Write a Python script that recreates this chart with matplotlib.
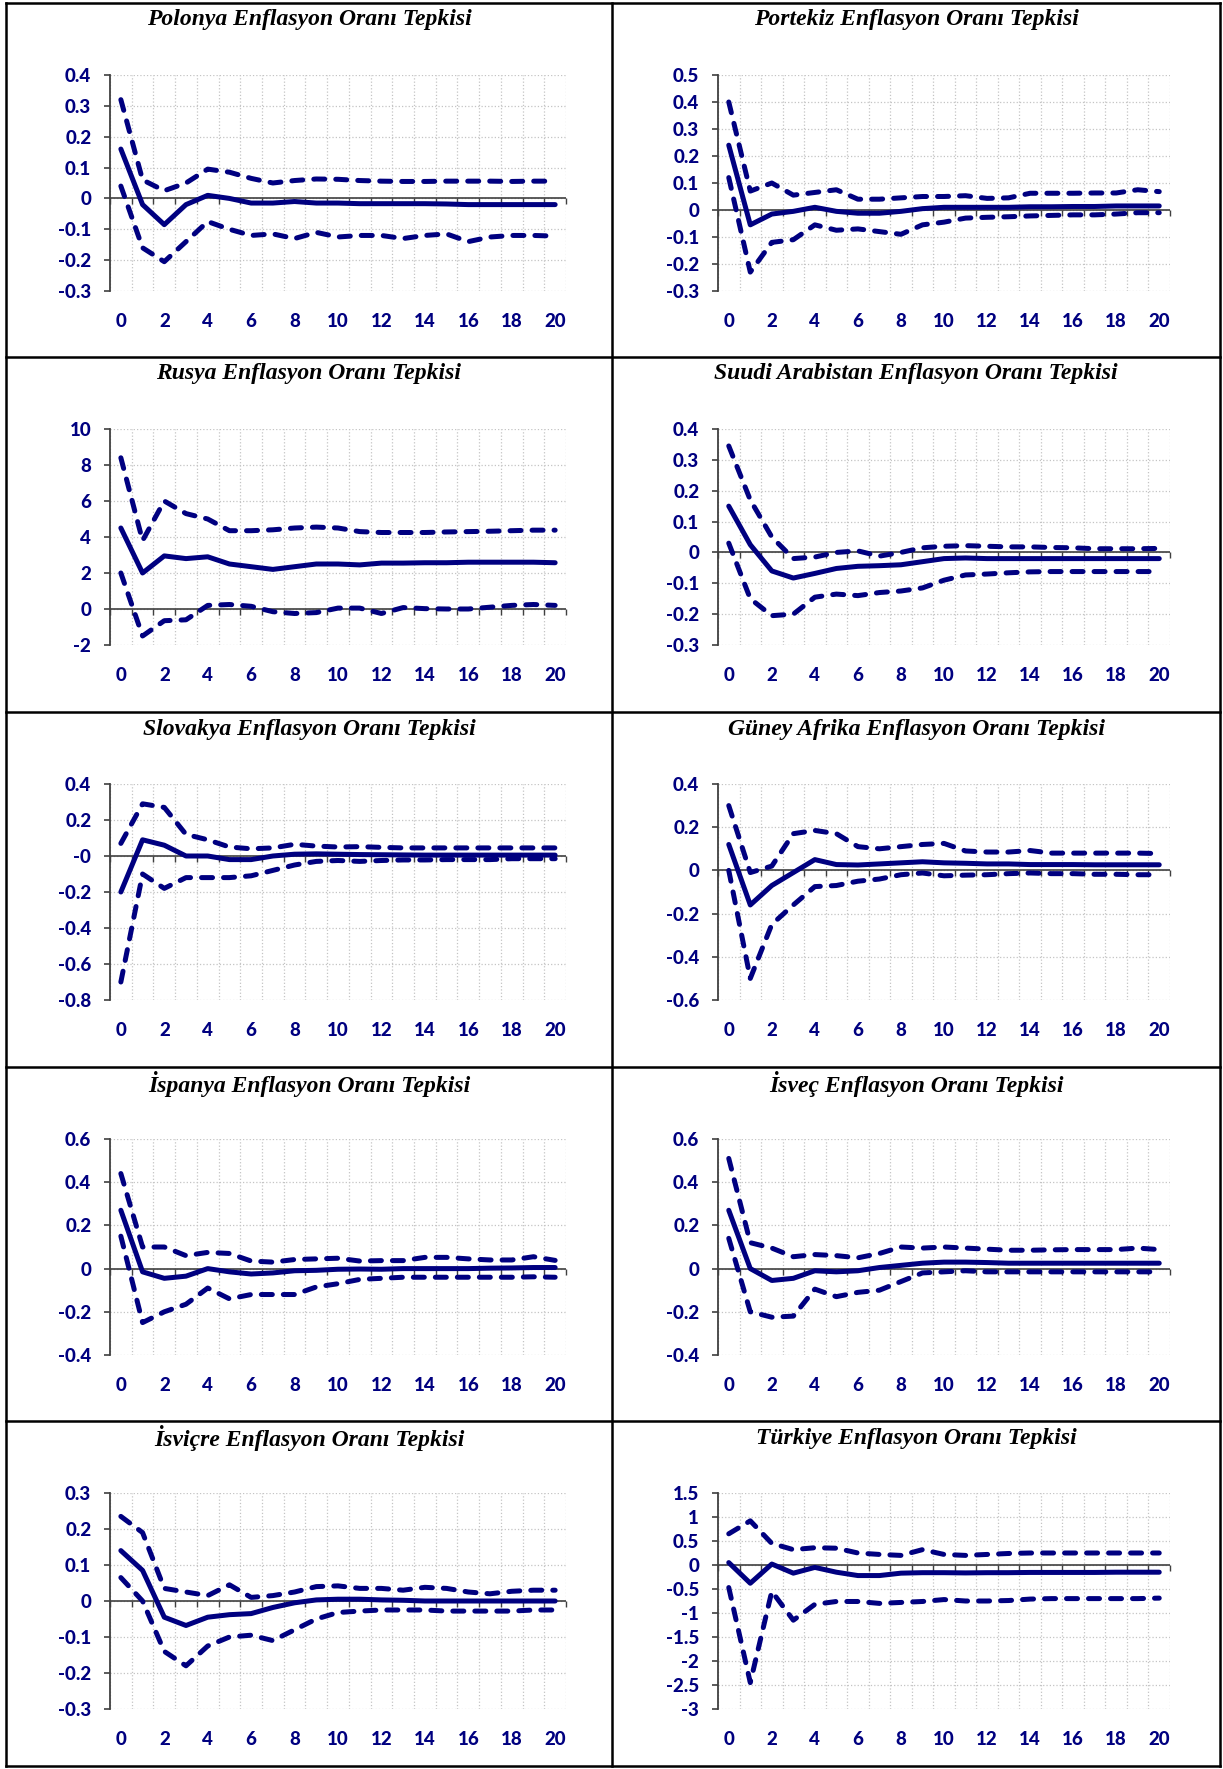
import numpy as np
import matplotlib
matplotlib.use("Agg")
import matplotlib.pyplot as plt
from matplotlib.lines import Line2D

W, H = 1223, 1769
NAVY = "#000080"

periods = list(range(21))

# impulse responses: central estimate, upper and lower bands
pol_mid = [0.16, -0.02, -0.085, -0.02, 0.01, 0.0, -0.015, -0.015, -0.01, -0.015, -0.015,
           -0.017, -0.017, -0.017, -0.017, -0.018, -0.02, -0.02, -0.02, -0.02, -0.02]
pol_up = [0.32, 0.06, 0.025, 0.05, 0.095, 0.085, 0.065, 0.05, 0.058, 0.063, 0.062,
          0.058, 0.056, 0.055, 0.055, 0.056, 0.056, 0.056, 0.055, 0.056, 0.056]
pol_lo = [0.04, -0.16, -0.205, -0.14, -0.075, -0.1, -0.12, -0.115, -0.13, -0.11, -0.125,
          -0.12, -0.12, -0.13, -0.12, -0.115, -0.14, -0.125, -0.12, -0.12, -0.122]

por_mid = [0.24, -0.055, -0.015, -0.005, 0.01, -0.005, -0.012, -0.012, -0.005, 0.005, 0.01,
           0.01, 0.01, 0.01, 0.012, 0.012, 0.013, 0.013, 0.015, 0.015, 0.015]
por_up = [0.40, 0.07, 0.10, 0.055, 0.065, 0.075, 0.04, 0.04, 0.045, 0.05, 0.05,
          0.053, 0.043, 0.045, 0.062, 0.062, 0.062, 0.063, 0.063, 0.075, 0.068]
por_lo = [0.12, -0.23, -0.12, -0.11, -0.055, -0.075, -0.07, -0.08, -0.09, -0.055, -0.045,
          -0.03, -0.027, -0.025, -0.022, -0.02, -0.018, -0.018, -0.015, -0.01, -0.01]

rus_mid = [4.5, 2.0, 2.95, 2.8, 2.9, 2.5, 2.35, 2.2, 2.35, 2.5, 2.5,
           2.45, 2.55, 2.55, 2.57, 2.57, 2.6, 2.6, 2.6, 2.6, 2.57]
rus_up = [8.4, 3.8, 6.0, 5.3, 5.0, 4.35, 4.35, 4.4, 4.5, 4.55, 4.5,
          4.3, 4.25, 4.25, 4.25, 4.28, 4.3, 4.32, 4.35, 4.38, 4.38]
rus_lo = [2.0, -1.5, -0.65, -0.6, 0.2, 0.25, 0.15, -0.15, -0.25, -0.2, 0.05,
          0.05, -0.25, 0.08, 0.02, 0.0, 0.0, 0.1, 0.2, 0.25, 0.2]

sau_mid = [0.15, 0.025, -0.06, -0.083, -0.068, -0.052, -0.045, -0.043, -0.04, -0.03, -0.02,
           -0.018, -0.02, -0.02, -0.02, -0.02, -0.02, -0.02, -0.02, -0.02, -0.02]
sau_up = [0.345, 0.17, 0.05, -0.02, -0.015, 0.0, 0.005, -0.012, 0.0, 0.015, 0.02,
          0.022, 0.02, 0.018, 0.018, 0.016, 0.015, 0.012, 0.012, 0.012, 0.013]
sau_lo = [0.03, -0.15, -0.205, -0.2, -0.145, -0.135, -0.14, -0.13, -0.125, -0.115, -0.09,
          -0.073, -0.07, -0.066, -0.063, -0.062, -0.062, -0.062, -0.062, -0.062, -0.062]

svk_mid = [-0.2, 0.09, 0.06, 0.0, 0.0, -0.02, -0.02, 0.0, 0.01, 0.012, 0.01,
           0.008, 0.007, 0.006, 0.005, 0.005, 0.005, 0.005, 0.005, 0.005, 0.005]
svk_up = [0.07, 0.29, 0.27, 0.12, 0.09, 0.05, 0.04, 0.045, 0.065, 0.055, 0.05,
          0.052, 0.048, 0.045, 0.045, 0.045, 0.045, 0.045, 0.045, 0.045, 0.045]
svk_lo = [-0.70, -0.10, -0.18, -0.12, -0.12, -0.12, -0.11, -0.08, -0.05, -0.03, -0.025,
          -0.03, -0.025, -0.022, -0.022, -0.02, -0.02, -0.02, -0.015, -0.015, -0.015]

zaf_mid = [0.12, -0.16, -0.07, -0.01, 0.05, 0.027, 0.025, 0.03, 0.035, 0.04, 0.035,
           0.033, 0.03, 0.03, 0.027, 0.027, 0.027, 0.026, 0.026, 0.026, 0.026]
zaf_up = [0.30, -0.01, 0.02, 0.17, 0.185, 0.17, 0.11, 0.10, 0.11, 0.12, 0.125,
          0.09, 0.085, 0.085, 0.092, 0.08, 0.08, 0.08, 0.08, 0.08, 0.078]
zaf_lo = [0.0, -0.50, -0.25, -0.16, -0.075, -0.07, -0.05, -0.04, -0.02, -0.012, -0.025,
          -0.022, -0.02, -0.015, -0.012, -0.015, -0.015, -0.018, -0.018, -0.02, -0.02]

esp_mid = [0.27, -0.015, -0.045, -0.035, 0.0, -0.015, -0.025, -0.02, -0.01, -0.008, -0.003,
           -0.002, -0.003, 0.0, 0.0, 0.0, 0.0, 0.002, 0.003, 0.005, 0.005]
esp_up = [0.44, 0.10, 0.10, 0.06, 0.075, 0.07, 0.035, 0.03, 0.042, 0.045, 0.048,
          0.035, 0.037, 0.037, 0.052, 0.052, 0.045, 0.04, 0.04, 0.055, 0.038]
esp_lo = [0.15, -0.25, -0.20, -0.165, -0.09, -0.14, -0.12, -0.12, -0.12, -0.085, -0.07,
          -0.05, -0.045, -0.04, -0.04, -0.04, -0.04, -0.04, -0.04, -0.038, -0.04]

swe_mid = [0.27, 0.0, -0.055, -0.045, -0.01, -0.015, -0.01, 0.005, 0.015, 0.025, 0.03,
           0.03, 0.028, 0.025, 0.025, 0.025, 0.025, 0.025, 0.025, 0.025, 0.025]
swe_up = [0.51, 0.12, 0.095, 0.055, 0.065, 0.06, 0.05, 0.07, 0.10, 0.095, 0.10,
          0.095, 0.09, 0.085, 0.085, 0.087, 0.088, 0.088, 0.088, 0.095, 0.088]
swe_lo = [0.14, -0.20, -0.225, -0.22, -0.095, -0.13, -0.11, -0.10, -0.06, -0.02, -0.015,
          -0.01, -0.015, -0.015, -0.015, -0.015, -0.015, -0.015, -0.015, -0.015, -0.015]

che_mid = [0.14, 0.085, -0.045, -0.068, -0.045, -0.038, -0.035, -0.018, -0.005, 0.003, 0.005,
           0.005, 0.003, 0.002, 0.0, 0.0, 0.0, 0.0, 0.0, 0.0, 0.0]
che_up = [0.235, 0.19, 0.035, 0.025, 0.015, 0.045, 0.01, 0.015, 0.025, 0.04, 0.042,
          0.035, 0.035, 0.03, 0.038, 0.035, 0.025, 0.02, 0.027, 0.03, 0.03]
che_lo = [0.065, 0.0, -0.14, -0.18, -0.125, -0.1, -0.095, -0.11, -0.08, -0.05, -0.032,
          -0.028, -0.025, -0.025, -0.025, -0.028, -0.028, -0.028, -0.028, -0.025, -0.025]

tur_mid = [0.05, -0.38, 0.02, -0.17, -0.05, -0.15, -0.22, -0.22, -0.17, -0.16, -0.16,
           -0.165, -0.16, -0.16, -0.155, -0.155, -0.155, -0.155, -0.15, -0.15, -0.15]
tur_up = [0.65, 0.92, 0.45, 0.32, 0.36, 0.35, 0.25, 0.22, 0.20, 0.32, 0.22,
          0.20, 0.22, 0.24, 0.25, 0.25, 0.25, 0.25, 0.25, 0.25, 0.25]
tur_lo = [-0.47, -2.45, -0.55, -1.15, -0.82, -0.76, -0.76, -0.80, -0.78, -0.76, -0.72,
          -0.75, -0.75, -0.74, -0.71, -0.70, -0.70, -0.70, -0.70, -0.70, -0.69]

titles = ["Polonya Enflasyon Oranı Tepkisi", "Portekiz Enflasyon Oranı Tepkisi",
          "Rusya Enflasyon Oranı Tepkisi", "Suudi Arabistan Enflasyon Oranı Tepkisi",
          "Slovakya Enflasyon Oranı Tepkisi", "Güney Afrika Enflasyon Oranı Tepkisi",
          "İspanya Enflasyon Oranı Tepkisi", "İsveç Enflasyon Oranı Tepkisi",
          "İsviçre Enflasyon Oranı Tepkisi", "Türkiye Enflasyon Oranı Tepkisi"]

# (min, max, step) of each y axis
y_scales = [(-0.3, 0.4, 0.1), (-0.3, 0.5, 0.1),
            (-2, 10, 2), (-0.3, 0.4, 0.1),
            (-0.8, 0.4, 0.2), (-0.6, 0.4, 0.2),
            (-0.4, 0.6, 0.2), (-0.4, 0.6, 0.2),
            (-0.3, 0.3, 0.1), (-3, 1.5, 0.5)]

series = [(pol_mid, pol_up, pol_lo), (por_mid, por_up, por_lo),
          (rus_mid, rus_up, rus_lo), (sau_mid, sau_up, sau_lo),
          (svk_mid, svk_up, svk_lo), (zaf_mid, zaf_up, zaf_lo),
          (esp_mid, esp_up, esp_lo), (swe_mid, swe_up, swe_lo),
          (che_mid, che_up, che_lo), (tur_mid, tur_up, tur_lo)]

fig = plt.figure(figsize=(W / 100, H / 100), dpi=100)

# table frame in pixel coordinates
frame = fig.add_axes([0, 0, 1, 1])
frame.set_xlim(0, W)
frame.set_ylim(H, 0)
frame.axis("off")
row_tops = [3, 357, 712, 1067, 1421, 1766]
col_x = [6, 612, 1220]
for y in row_tops:
    frame.add_line(Line2D([col_x[0], col_x[-1]], [y, y], color="black", lw=1.8))
for x in col_x:
    frame.add_line(Line2D([x, x], [row_tops[0], row_tops[-1]], color="black", lw=1.8))

col_axes = [(110, 566), (718, 1170)]
bounds = np.arange(-0.5, 21, 1.0)


def fmt(v):
    return "%g" % round(v, 2)


for i, (title, (lo, hi, step), (mid, up, low)) in enumerate(zip(titles, y_scales, series)):
    r, c = divmod(i, 2)
    top = row_tops[r]
    x0, x1 = col_axes[c]
    y0, y1 = top + 72, top + 288
    ax = fig.add_axes([x0 / W, 1 - y1 / H, (x1 - x0) / W, (y1 - y0) / H])

    fig.text((col_x[c] + col_x[c + 1]) / 2 / W, 1 - (top + 17) / H, title,
             ha="center", va="center", family="Liberation Serif", style="italic",
             weight="bold", fontsize=17)

    ax.set_xlim(-0.5, 20.5)
    ax.set_ylim(lo, hi)
    yt = np.round(np.arange(lo, hi + step / 2, step), 2)
    ax.set_yticks(yt)
    ax.set_yticklabels([fmt(v) for v in yt])
    ax.set_xticks(range(0, 21, 2))
    ax.set_xticks(bounds, minor=True)

    ax.grid(True, which="minor", axis="x", color="#c4c4c4", ls=":", lw=0.9)
    ax.grid(True, which="major", axis="y", color="#c4c4c4", ls=":", lw=0.9)
    ax.set_axisbelow(True)

    for s in ["top", "right", "bottom"]:
        ax.spines[s].set_visible(False)
    ax.spines["left"].set_color("#404040")
    ax.spines["left"].set_linewidth(1.3)

    ax.tick_params(axis="y", which="major", length=4.5, width=1.2, color="#404040",
                   pad=9, labelcolor=NAVY, labelsize=13.5)
    ax.tick_params(axis="x", which="both", length=0, pad=16, labelcolor=NAVY,
                   labelsize=13.5)
    for lab in ax.get_xticklabels() + ax.get_yticklabels():
        lab.set_family("Lato")
        lab.set_weight("black")

    # category axis crossing at zero, with ticks between periods
    ax.axhline(0, color="#404040", lw=1.2, zorder=2)
    ax.plot(bounds, np.zeros_like(bounds), ls="none", marker=3, markersize=4.5,
            markeredgewidth=1.0, color="#404040", clip_on=False, zorder=2)

    ax.plot(periods, mid, color=NAVY, lw=3.6, solid_capstyle="round",
            solid_joinstyle="round", zorder=3)
    for band in (up, low):
        ax.plot(periods, band, color=NAVY, lw=3.6, ls=(0, (2.2, 2.2)),
                dash_capstyle="round", dash_joinstyle="round", zorder=3)

fig.savefig("out.png", dpi=100)
